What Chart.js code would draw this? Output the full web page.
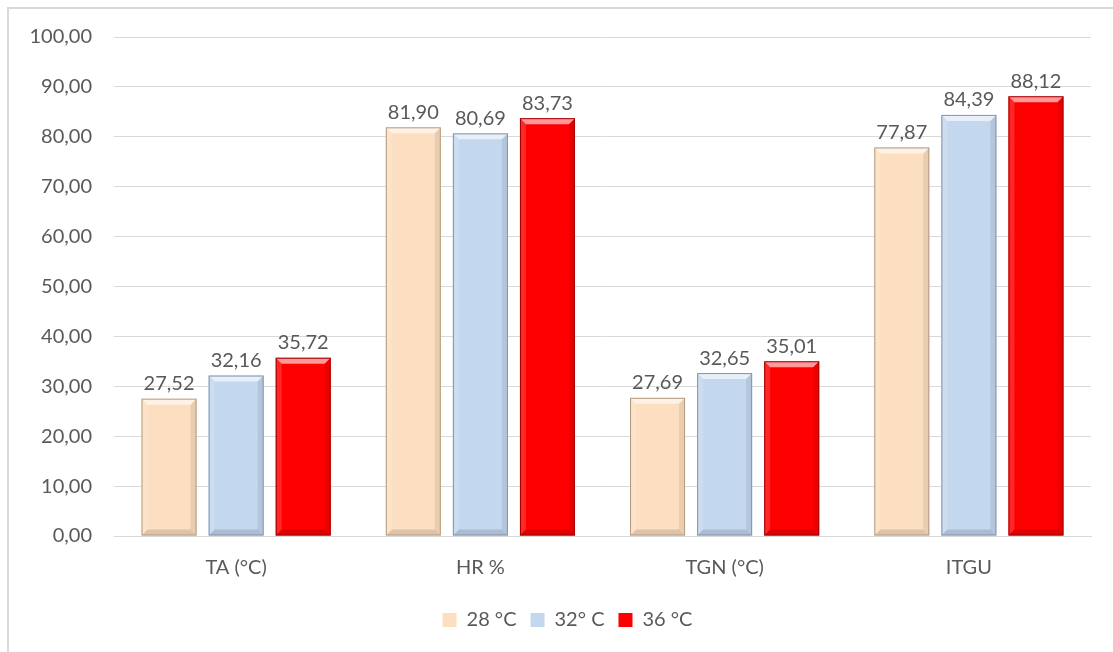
<!DOCTYPE html>
<html>
<head>
<meta charset="utf-8">
<script src="https://cdn.jsdelivr.net/npm/chart.js@4/dist/chart.umd.min.js"></script>
<style>
html,body{margin:0;padding:0;background:#fff;overflow:hidden;width:1113px;height:652px;}
#frame{position:absolute;left:7px;top:7px;width:1106px;height:645px;border-left:2px solid #d9d9d9;border-top:2px solid #d9d9d9;box-sizing:border-box;}
#wrap{position:absolute;left:0;top:0;width:1113px;height:652px;}
</style>
</head>
<body>
<div id="frame"></div>
<div id="wrap"><canvas id="c" width="1113" height="652"></canvas></div>
<script>
const categories = ["TA (°C)", "HR %", "TGN (°C)", "ITGU"];
const seriesNames = ["28 °C", "32° C", "36 °C"];
const s28 = [27.52, 81.90, 27.69, 77.87];
const s32 = [32.16, 80.69, 32.65, 84.39];
const s36 = [35.72, 83.73, 35.01, 88.12];
const yTicks = [0, 10, 20, 30, 40, 50, 60, 70, 80, 90, 100];

const fills = ["#FCDFC1", "#C3D7EE", "#FF0000"];
const edges = ["#B59A7E", "#7F93AD", "#A00000"];
const FONT = "Lato, 'Liberation Sans', sans-serif";
const TXT = "#595959";
const fmt = v => Number(v).toFixed(2).replace('.', ',');

const bevelPlugin = {
  id: 'bevel',
  afterDatasetsDraw(chart) {
    const ctx = chart.ctx;
    chart.data.datasets.forEach((ds, di) => {
      const meta = chart.getDatasetMeta(di);
      meta.data.forEach(bar => {
        const p = bar.getProps(['x', 'y', 'base', 'width'], true);
        const l = p.x - p.width / 2, r = p.x + p.width / 2, t = p.y, b = p.base;
        const k = 6;
        ctx.save();
        ctx.beginPath();
        ctx.moveTo(l, t); ctx.lineTo(r, t); ctx.lineTo(r - k, t + k); ctx.lineTo(l + k, t + k); ctx.closePath();
        ctx.fillStyle = 'rgba(255,255,255,0.6)'; ctx.fill();
        ctx.beginPath();
        ctx.moveTo(l, t); ctx.lineTo(l + k, t + k); ctx.lineTo(l + k, b - k); ctx.lineTo(l, b); ctx.closePath();
        ctx.fillStyle = 'rgba(255,255,255,0.15)'; ctx.fill();
        ctx.beginPath();
        ctx.moveTo(r, t); ctx.lineTo(r - k, t + k); ctx.lineTo(r - k, b - k); ctx.lineTo(r, b); ctx.closePath();
        ctx.fillStyle = 'rgba(0,0,0,0.08)'; ctx.fill();
        ctx.beginPath();
        ctx.moveTo(l, b); ctx.lineTo(r, b); ctx.lineTo(r - k, b - k); ctx.lineTo(l + k, b - k); ctx.closePath();
        ctx.fillStyle = 'rgba(0,0,0,0.12)'; ctx.fill();
        ctx.strokeStyle = edges[di]; ctx.lineWidth = 1;
        ctx.strokeRect(l + 0.5, t + 0.5, p.width - 1, b - t - 1);
        ctx.restore();
      });
    });
  }
};

const labelPlugin = {
  id: 'valueLabels',
  afterDatasetsDraw(chart) {
    const ctx = chart.ctx;
    ctx.save();
    ctx.font = "20px " + FONT;
    ctx.fillStyle = TXT;
    ctx.textAlign = 'center';
    ctx.textBaseline = 'bottom';
    chart.data.datasets.forEach((ds, di) => {
      chart.getDatasetMeta(di).data.forEach((bar, i) => {
        ctx.fillText(fmt(ds.data[i]), bar.x, bar.y - 5);
      });
    });
    ctx.restore();
  }
};

const legendShift = {
  id: 'legendShift',
  afterLayout(chart) {
    if (chart.legend) { chart.legend.left += 22; chart.legend.right += 22; }
  }
};

const mk = (i, data) => ({
  label: seriesNames[i], data,
  backgroundColor: fills[i], borderColor: edges[i], borderWidth: 0,
  categoryPercentage: 0.824, barPercentage: 0.82
});

new Chart(document.getElementById('c'), {
  type: 'bar',
  data: { labels: categories, datasets: [mk(0, s28), mk(1, s32), mk(2, s36)] },
  options: {
    responsive: false, animation: false,
    layout: { padding: { top: 37, right: 22, left: 0, bottom: 12 } },
    scales: {
      x: {
        grid: { display: false },
        border: { display: true, color: '#d9d9d9', width: 1 },
        ticks: { color: TXT, font: { family: FONT, size: 20 }, padding: 12 },
        afterFit(s) { s.height = 60; }
      },
      y: {
        min: 0, max: 100,
        afterBuildTicks(s) { s.ticks = yTicks.map(v => ({ value: v })); },
        grid: { color: '#d9d9d9', drawTicks: false },
        border: { display: false },
        ticks: { color: TXT, font: { family: FONT, size: 20 }, padding: 22, callback: v => fmt(v) },
        afterFit(s) { s.width = 114; }
      }
    },
    plugins: {
      legend: {
        position: 'bottom',
        labels: { color: TXT, font: { family: FONT, size: 20 }, boxWidth: 14, boxHeight: 14, padding: 14 }
      },
      tooltip: { enabled: false }
    }
  },
  plugins: [bevelPlugin, labelPlugin, legendShift]
});
</script>
</body>
</html>
